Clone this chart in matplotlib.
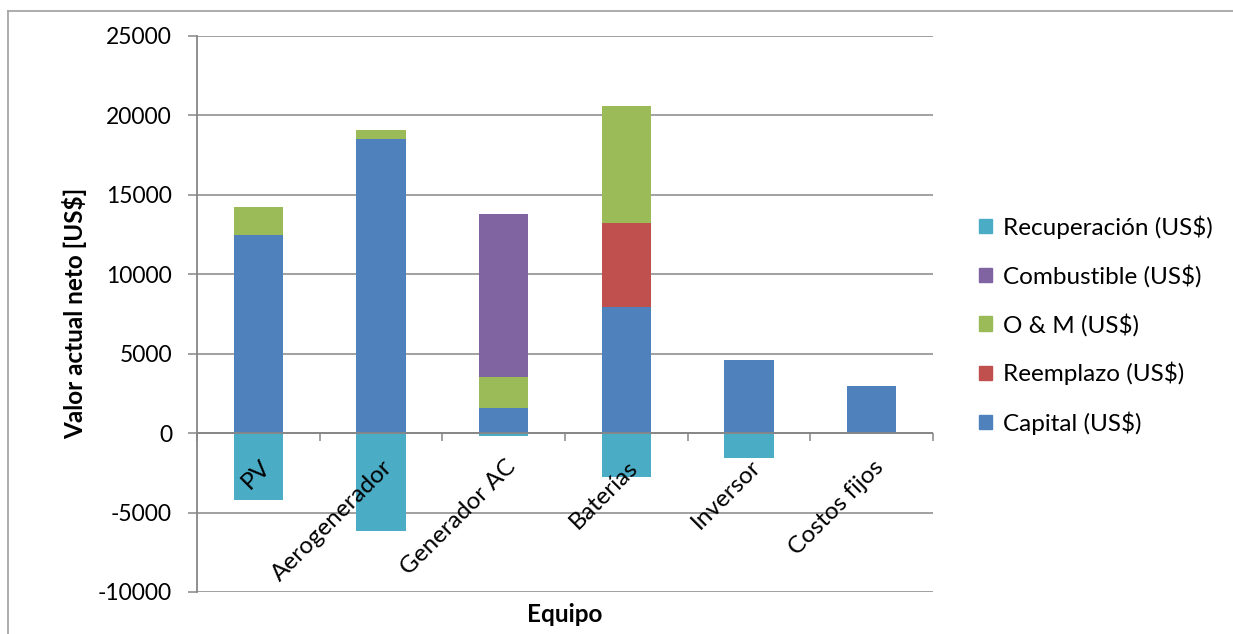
import numpy as np
import matplotlib
matplotlib.use("Agg")
import matplotlib.pyplot as plt
from matplotlib.lines import Line2D
from matplotlib.patches import Patch

plt.rcParams['font.family'] = ['Lato', 'DejaVu Sans']

# Valor actual neto por equipo (US$)
equipos = ["PV", "Aerogenerador", "Generador AC", "Baterías", "Inversor", "Costos fijos"]
capital = [12450, 18530, 1580, 7950, 4630, 2990]
reemplazo = [0, 0, 0, 5280, 0, 0]
o_y_m = [1790, 560, 1955, 7340, 0, 0]
combustible = [0, 0, 10270, 0, 0, 0]
recuperacion = [-4190, -6190, -200, -2790, -1590, 0]

y_ticks = [-10000, -5000, 0, 5000, 10000, 15000, 20000, 25000]

c_capital = "#4F81BD"
c_reemplazo = "#C0504D"
c_om = "#9BBB59"
c_comb = "#8064A2"
c_recup = "#4BACC6"
c_axis = "#868686"

W, H = 1233, 634
fig = plt.figure(figsize=(W / 100, H / 100), dpi=100)
ax = fig.add_axes([197 / W, 1 - 592 / H, (933 - 197) / W, (592 - 36) / H])

x = np.arange(len(equipos))
ancho = 0.4
fs_ticks = 16.5
fs = 17.5

# Barras apiladas positivas
series = [
    (capital, "Capital (US$)", c_capital),
    (reemplazo, "Reemplazo (US$)", c_reemplazo),
    (o_y_m, "O & M (US$)", c_om),
    (combustible, "Combustible (US$)", c_comb),
]
base = np.zeros(len(equipos))
for vals, nombre, color in series:
    vals = np.asarray(vals, dtype=float)
    ax.bar(x, vals, ancho, bottom=base, color=color, zorder=3, linewidth=0)
    base += vals

# Recuperación (negativa)
ax.bar(x, recuperacion, ancho, color=c_recup, zorder=3, linewidth=0)

ax.set_xlim(-0.5, len(equipos) - 0.5)
ax.set_ylim(min(y_ticks), max(y_ticks))
ax.set_yticks(y_ticks)
ax.set_yticklabels([str(v) for v in y_ticks], fontsize=fs_ticks)
ax.yaxis.grid(True, color=c_axis, linewidth=1.1, zorder=0)
ax.set_axisbelow(True)

for s in ["top", "right", "bottom"]:
    ax.spines[s].set_visible(False)
ax.spines["left"].set_color(c_axis)
ax.spines["left"].set_linewidth(1.3)
ax.tick_params(axis="y", length=6.5, width=1.1, color=c_axis, pad=11.5)
ax.set_xticks([])

# Eje de categorías en y = 0
ax.axhline(0, color=c_axis, linewidth=1.3, zorder=4)
limites = np.arange(-0.5, len(equipos), 1.0)
ax.plot(limites, np.zeros_like(limites), linestyle="none", marker=3,
        markersize=6, markeredgewidth=1.1, color=c_axis, clip_on=False, zorder=4)

# Etiquetas de categoría rotadas bajo el eje
for i, nombre in enumerate(equipos):
    ax.annotate(nombre, xy=(x[i], 0), xytext=(6, -22), textcoords="offset points",
                rotation=45, ha="right", va="center", rotation_mode="anchor",
                fontsize=fs, color="black", zorder=5)

fig.text(75 / W, 1 - 313 / H, "Valor actual neto [US$]", rotation=90,
         ha="center", va="center", fontsize=fs, fontweight="bold")
fig.text(565 / W, 1 - 614 / H, "Equipo", ha="center", va="center",
         fontsize=fs, fontweight="bold")

handles = [
    Patch(color=c_recup, label="Recuperación (US$)"),
    Patch(color=c_comb, label="Combustible (US$)"),
    Patch(color=c_om, label="O & M (US$)"),
    Patch(color=c_reemplazo, label="Reemplazo (US$)"),
    Patch(color=c_capital, label="Capital (US$)"),
]
fig.legend(handles=handles, loc="center left", bbox_to_anchor=(979 / W, 1 - 325 / H),
           frameon=False, fontsize=fs, handlelength=0.52, handleheight=0.52,
           handletextpad=0.45, labelspacing=1.06, borderpad=0, borderaxespad=0)

# Marco del gráfico
fig.add_artist(Line2D([8 / W, 1], [1 - 10.5 / H, 1 - 10.5 / H], transform=fig.transFigure,
                      color="#A6A6A6", linewidth=1.3))
fig.add_artist(Line2D([8 / W, 8 / W], [0, 1 - 10.5 / H], transform=fig.transFigure,
                      color="#A6A6A6", linewidth=1.3))

fig.savefig("out.png", dpi=100, facecolor="white")
